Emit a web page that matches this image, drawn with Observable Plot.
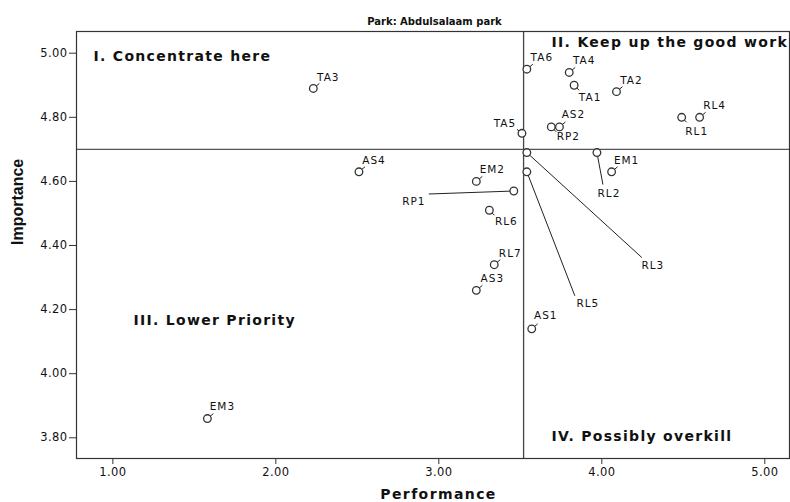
<!DOCTYPE html>
<html><head><meta charset="utf-8">
<script src="https://cdn.jsdelivr.net/npm/d3@7"></script>
<script src="https://cdn.jsdelivr.net/npm/@observablehq/plot@0.6"></script>
<style>
body{margin:0;background:#fff;}
</style></head><body><div id="chart"></div>
<script>
// ---- data ----
const codes = ["TA3","AS4","EM3","TA6","TA4","TA1","TA2","RL1","RL4","AS2","RP2","TA5","RL3","RL2","EM1","EM2","RL5","RP1","RL6","RL7","AS3","AS1"];
const performance = [2.23, 2.51, 1.58, 3.54, 3.80, 3.83, 4.09, 4.49, 4.60, 3.74, 3.69, 3.51, 3.54, 3.97, 4.06, 3.23, 3.54, 3.46, 3.31, 3.34, 3.23, 3.57];
const importance  = [4.89, 4.63, 3.86, 4.95, 4.94, 4.90, 4.88, 4.80, 4.80, 4.77, 4.77, 4.75, 4.69, 4.69, 4.63, 4.60, 4.63, 4.57, 4.51, 4.34, 4.26, 4.14];
const xTicks = [1, 2, 3, 4, 5];
const yTicks = [3.8, 4.0, 4.2, 4.4, 4.6, 4.8, 5.0];
const meanPerformance = 3.52;
const meanImportance = 4.70;
const chartTitle = "Park: Abdulsalaam park";
const xTitle = "Performance";
const yTitle = "Importance";
const quadrantNames = ["I. Concentrate here", "II. Keep up the good work", "III. Lower Priority", "IV. Possibly overkill"];

// ---- layout (pixels) ----
const W = 790, H = 502, mL = 76, mR = 1, mT = 31, mB = 44;
const xDomain = [0.777, 5.1515], yDomain = [3.7354, 5.0677];
// label centre offsets and leader-line end offsets from each point, in pixels
const labelOffset = {TA3:[15,-11],AS4:[15,-11],EM3:[15,-12],TA6:[15,-12],TA4:[15,-12],TA1:[16,12],TA2:[15,-11],
  RL1:[15,14],RL4:[15,-12],AS2:[14,-12],RP2:[17,10],TA5:[-17,-10],RL3:[126,113],RL2:[12,41],EM1:[15,-11],
  EM2:[16,-12],RL5:[61,132],RP1:[-100,11],RL6:[17,11],RL7:[16,-11],AS3:[16,-12],AS1:[14,-13]};
const leaderOffset = {TA3:[6,-5],AS4:[6,-5],EM3:[6,-5],TA6:[6,-5],TA4:[6,-5],TA1:[5,5],TA2:[6,-5],
  RL1:[5,5],RL4:[6,-5],AS2:[6,-5],RP2:[5,5],TA5:[-5,-4],RL3:[115,105],RL2:[6,32],EM1:[6,-5],
  EM2:[6,-5],RL5:[48,124],RP1:[-85,3],RL6:[5,5],RL7:[6,-5],AS3:[6,-5],AS1:[6,-5]};

const sx = d3.scaleLinear(xDomain, [mL, W - mR]);
const sy = d3.scaleLinear(yDomain, [H - mB, mT]);
const rows = codes.map((c, i) => ({code: c, x: performance[i], y: importance[i]}));
const shift = (d, off) => ({...d, lx: sx.invert(sx(d.x) + off[d.code][0]), ly: sy.invert(sy(d.y) + off[d.code][1])});
const labelRows = rows.map(d => shift(d, labelOffset));
const leaderRows = rows.map(d => shift(d, leaderOffset));

const fmt = d3.format(".2f");
const plot = Plot.plot({
  width: W, height: H,
  marginLeft: mL, marginRight: mR, marginTop: mT, marginBottom: mB,
  x: {domain: xDomain},
  y: {domain: yDomain},
  style: {fontFamily: "DejaVu Sans", fontSize: "11.5px", color: "#111", background: "white"},
  marks: [
    Plot.ruleX([meanPerformance], {stroke: "#444", strokeWidth: 1.3}),
    Plot.ruleY([meanImportance], {stroke: "#555", strokeWidth: 1.3}),
    Plot.frame({stroke: "#333", strokeWidth: 1.2}),
    Plot.axisX({ticks: xTicks, tickFormat: fmt, tickSize: 6, tickPadding: 3, label: null, fontSize: 11.5, stroke: "#333"}),
    Plot.axisY({ticks: yTicks, tickFormat: fmt, tickSize: 7, tickPadding: 2, label: null, fontSize: 11.5, stroke: "#333"}),
    Plot.link(leaderRows, {x1: "x", y1: "y", x2: "lx", y2: "ly", stroke: "#222", strokeWidth: 1}),
    Plot.dot(rows, {x: "x", y: "y", r: 3.8, fill: "white", stroke: "#333", strokeWidth: 1.3}),
    Plot.text(labelRows, {x: "lx", y: "ly", text: "code", fontSize: 10.5}),
    Plot.text([quadrantNames[0]], {text: d => d, frameAnchor: "top-left", dx: 17, dy: 20, textAnchor: "start", lineAnchor: "top", fontWeight: "bold", fontSize: 14}),
    Plot.text([quadrantNames[1]], {text: d => d, x: () => meanPerformance, frameAnchor: "top", dx: 28, dy: 6, textAnchor: "start", lineAnchor: "top", fontWeight: "bold", fontSize: 14}),
    Plot.text([quadrantNames[2]], {text: d => d, frameAnchor: "left", dx: 57, dy: 75.5, textAnchor: "start", lineAnchor: "middle", fontWeight: "bold", fontSize: 14}),
    Plot.text([quadrantNames[3]], {text: d => d, x: () => meanPerformance, frameAnchor: "bottom", dx: 28, dy: -22, textAnchor: "start", lineAnchor: "middle", fontWeight: "bold", fontSize: 14}),
    Plot.text([chartTitle], {text: d => d, frameAnchor: "top", dx: 1.5, dy: -7, lineAnchor: "bottom", fontWeight: "bold", fontSize: 10}),
    Plot.text([xTitle], {text: d => d, frameAnchor: "bottom", dx: 5.5, dy: 31, lineAnchor: "top", fontWeight: "bold", fontSize: 14}),
    Plot.text([yTitle], {text: d => d, frameAnchor: "left", dx: -59, dy: 0, rotate: -90, lineAnchor: "middle", fontWeight: "bold", fontSize: 16, fontFamily: "Liberation Sans"})
  ]
});
// widen letter spacing to match the reference's horizontally stretched lettering
const spacing = new Map();
quadrantNames.forEach(t => spacing.set(t, "1.3px"));
codes.forEach(t => spacing.set(t, "1px"));
xTicks.concat(yTicks).forEach(v => spacing.set(fmt(v), "0.4px"));
spacing.set(xTitle, "1.4px");
d3.select(plot).selectAll("text").each(function() {
  const s = spacing.get(this.textContent);
  if (s) this.setAttribute("letter-spacing", s);
});
document.getElementById("chart").appendChild(plot);
</script></body></html>
